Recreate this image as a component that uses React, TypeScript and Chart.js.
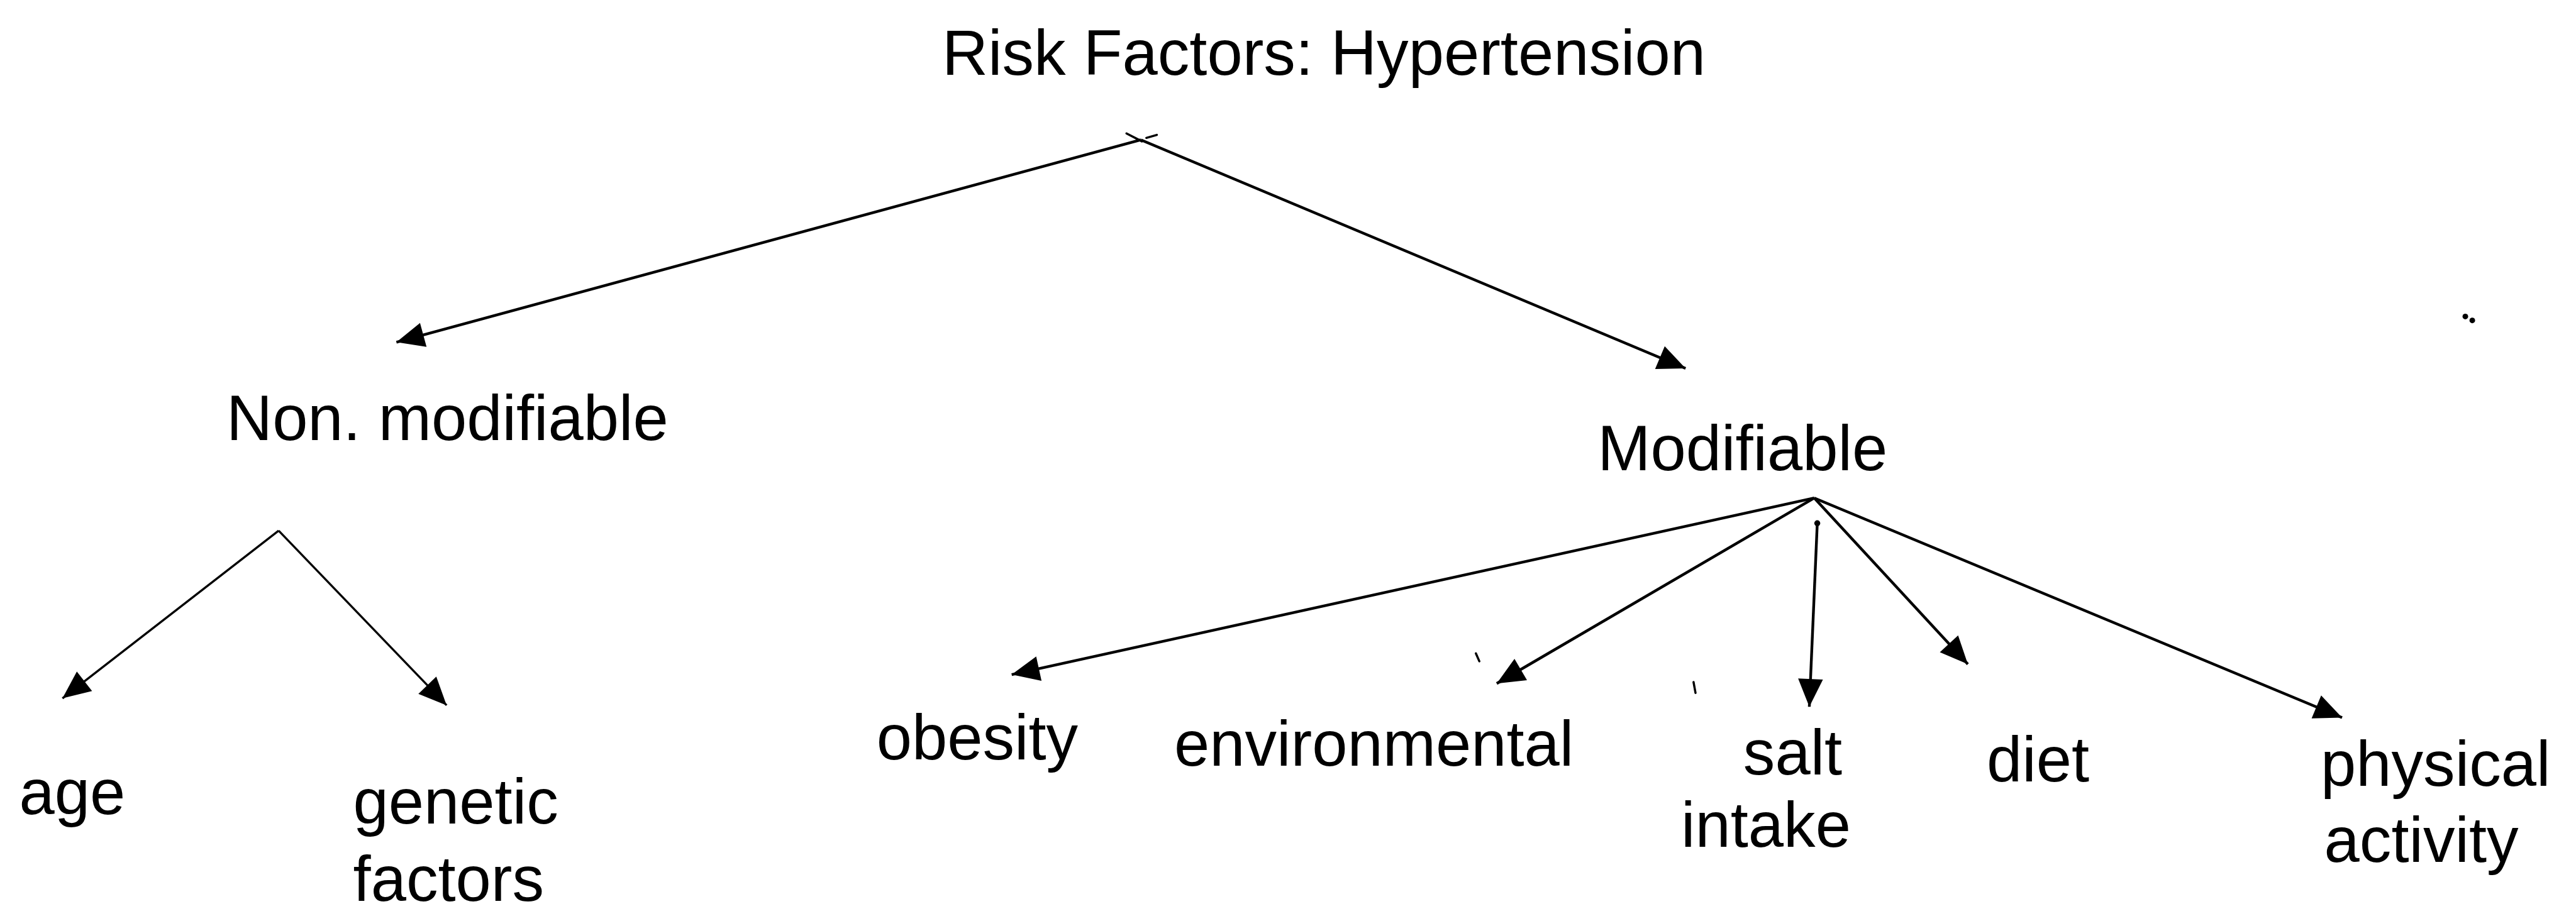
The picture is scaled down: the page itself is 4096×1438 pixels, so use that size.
import React, { useEffect, useRef } from 'react';
import { Chart, registerables } from 'chart.js';

Chart.register(...registerables);

// Diagram coordinate space (units of the original drawing)
const VIEW_W = 5172;
const VIEW_H = 1816;

// Node labels (one entry per text line), left edge and baseline in diagram units
const labelTexts = [
  'Risk Factors: Hypertension',
  'Non. modifiable',
  'Modifiable',
  'age',
  'genetic',
  'factors',
  'obesity',
  'environmental',
  'salt',
  'intake',
  'diet',
  'physical',
  'activity',
];
const labelLeft = [1890, 450, 3209, 33, 705, 705, 1758, 2357, 3502, 3377, 3992, 4664, 4671];
const labelBase = [145, 884, 945, 1640, 1659, 1815, 1529, 1542, 1560, 1706, 1574, 1583, 1736];

// Arrows: from (parent branch point) -> to (arrow tip)
const arrowFromX = [2290, 2290, 555, 555, 3645, 3645, 3651, 3645, 3645];
const arrowFromY = [277, 277, 1067, 1067, 1001, 1001, 1052, 1001, 1001];
const arrowToX = [792, 3386, 120, 893, 2030, 3006, 3635, 3954, 4707];
const arrowToY = [686, 739, 1406, 1420, 1358, 1376, 1423, 1337, 1445];

// Small stray strokes of the scanned original
const markFromX = [2261, 2301, 2964, 3402];
const markFromY = [264, 273, 1315, 1373];
const markToX = [2292, 2322, 2971, 3406];
const markToY = [280, 267, 1331, 1395];

// Stray dots of the scanned original
const dotX = [4955, 4969];
const dotY = [634, 642];

const FONT_UNITS = 128;
const HEAD_LEN = 56;
const HEAD_HALF = 25;

const diagramPlugin = {
  id: 'diagramOverlay',
  afterDatasetsDraw(chart: any) {
    const { ctx } = chart;
    const xs = chart.scales.x;
    const ys = chart.scales.y;
    const k = chart.chartArea.width / VIEW_W;
    ctx.save();
    ctx.fillStyle = '#000';
    // arrow heads
    for (let i = 0; i < arrowToX.length; i++) {
      const fx = xs.getPixelForValue(arrowFromX[i]);
      const fy = ys.getPixelForValue(arrowFromY[i]);
      const tx = xs.getPixelForValue(arrowToX[i]);
      const ty = ys.getPixelForValue(arrowToY[i]);
      const a = Math.atan2(ty - fy, tx - fx);
      const c = Math.cos(a);
      const s = Math.sin(a);
      const L = HEAD_LEN * k;
      const W = HEAD_HALF * k;
      ctx.beginPath();
      ctx.moveTo(tx, ty);
      ctx.lineTo(tx - L * c + W * s, ty - L * s - W * c);
      ctx.lineTo(tx - L * c - W * s, ty - L * s + W * c);
      ctx.closePath();
      ctx.fill();
    }
    // dot at the start of the vertical arrow
    ctx.beginPath();
    ctx.arc(xs.getPixelForValue(arrowFromX[6]), ys.getPixelForValue(arrowFromY[6]), 6 * k, 0, Math.PI * 2);
    ctx.fill();
    // labels
    ctx.font = `${FONT_UNITS * k}px 'Liberation Sans', Arial, Helvetica, sans-serif`;
    ctx.textAlign = 'left';
    ctx.textBaseline = 'alphabetic';
    for (let i = 0; i < labelTexts.length; i++) {
      ctx.fillText(labelTexts[i], xs.getPixelForValue(labelLeft[i]), ys.getPixelForValue(labelBase[i]));
    }
    ctx.restore();
  },
};

export default function App() {
  const canvasRef = useRef<HTMLCanvasElement | null>(null);

  useEffect(() => {
    const canvas = canvasRef.current;
    if (!canvas) return;
    const datasets: any[] = [];
    for (let i = 0; i < arrowFromX.length; i++) {
      datasets.push({
        label: 'arrow' + i,
        data: [
          { x: arrowFromX[i], y: arrowFromY[i] },
          { x: arrowToX[i], y: arrowToY[i] },
        ],
        showLine: true,
        borderColor: '#000',
        borderWidth: i === 2 || i === 3 ? 3.4 : 4.4,
        pointRadius: 0,
        fill: false,
        tension: 0,
      });
    }
    for (let i = 0; i < markFromX.length; i++) {
      datasets.push({
        label: 'mark' + i,
        data: [
          { x: markFromX[i], y: markFromY[i] },
          { x: markToX[i], y: markToY[i] },
        ],
        showLine: true,
        borderColor: '#000',
        borderWidth: 3.5,
        borderCapStyle: 'round',
        pointRadius: 0,
        fill: false,
      });
    }
    datasets.push({
      label: 'dots',
      data: dotX.map((x, i) => ({ x, y: dotY[i] })),
      showLine: false,
      pointRadius: 4.5,
      pointBackgroundColor: '#000',
      pointBorderWidth: 0,
    });
    const chart = new Chart(canvas, {
      type: 'scatter',
      data: { datasets },
      options: {
        animation: false,
        responsive: true,
        maintainAspectRatio: false,
        layout: { padding: 0 },
        scales: {
          x: { type: 'linear', min: 0, max: VIEW_W, display: false },
          y: { type: 'linear', min: 0, max: VIEW_H, reverse: true, display: false },
        },
        plugins: {
          legend: { display: false },
          tooltip: { enabled: false },
          title: { display: false },
        },
        events: [],
      },
      plugins: [diagramPlugin],
    } as any);
    return () => chart.destroy();
  }, []);

  return (
    <div style={{ position: 'fixed', left: 0, top: 0, width: '100vw', height: '100vh', background: '#fff' }}>
      <canvas ref={canvasRef} />
    </div>
  );
}
